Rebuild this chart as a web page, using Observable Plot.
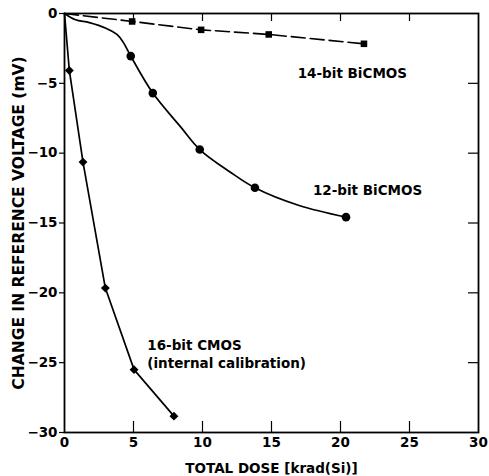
<!DOCTYPE html>
<html>
<head>
<meta charset="utf-8">
<script src="https://cdn.jsdelivr.net/npm/d3@7"></script>
<script src="https://cdn.jsdelivr.net/npm/@observablehq/plot@0.6"></script>
<style>
  html, body { margin: 0; padding: 0; background: #fff; }
</style>
</head>
<body>
<div id="chart"></div>
<script>
// 14-bit BiCMOS (dashed, squares)
const dose14 = [0, 4.9, 9.9, 14.8, 21.7];
const volt14 = [0, -0.57, -1.17, -1.5, -2.17];
// 12-bit BiCMOS (smooth curve, circles)
const dose12Curve = [0, 0.8, 1.8, 3.0, 3.8, 4.25, 4.8, 6.4, 8.4, 9.8, 12, 13.8, 17, 20.4];
const volt12Curve = [0, -0.45, -0.65, -1.05, -1.5, -2.05, -3.05, -5.7, -8.1, -9.74, -11.35, -12.48, -13.75, -14.58];
const dose12 = [4.8, 6.4, 9.8, 13.8, 20.4];
const volt12 = [-3.05, -5.7, -9.74, -12.48, -14.58];
// 16-bit CMOS (straight segments, diamonds)
const dose16 = [0, 0.35, 1.34, 2.96, 5.04, 7.93];
const volt16 = [0, -4.08, -10.64, -19.66, -25.5, -28.83];

const xTicks = [0, 5, 10, 15, 20, 25, 30];
const yTicks = [0, -5, -10, -15, -20, -25, -30];
const innerX = [5, 10, 15, 20, 25];
const innerY = [-5, -10, -15, -20, -25];

const seriesLabels = [
  {x: 16.9, y: -4.2, text: "14-bit BiCMOS"},
  {x: 18.0, y: -12.6, text: "12-bit BiCMOS"},
  {x: 6.0, y: -24.3, text: "16-bit CMOS\n(internal calibration)"}
];

const zip = (xs, ys) => xs.map((x, i) => ({x, y: ys[i]}));
const s14 = zip(dose14, volt14);
const s12c = zip(dose12Curve, volt12Curve);
const s12 = zip(dose12, volt12);
const s16 = zip(dose16, volt16);

const W = 489, H = 476, ML = 64, MR = 11, MT = 13, MB = 44;
const innerW = W - ML - MR, innerH = H - MT - MB;
const font = "DejaVu Sans";

const chart = Plot.plot({
  width: W,
  height: H,
  marginLeft: ML,
  marginRight: MR,
  marginTop: MT,
  marginBottom: MB,
  style: {fontFamily: font, fontWeight: "bold", fontSize: "13.5px", color: "#000", background: "#fff", overflow: "visible"},
  x: {domain: [0, 30]},
  y: {domain: [-30, 0]},
  marks: [
    Plot.axisX({anchor: "bottom", ticks: xTicks, tickSize: 0, tickPadding: 5, fontSize: 13.5,
      label: "TOTAL DOSE [krad(Si)]", labelAnchor: "center", labelArrow: "none", labelOffset: 40}),
    Plot.axisY({anchor: "left", ticks: yTicks, tickSize: 5, tickPadding: 2, strokeWidth: 1.2, fontSize: 13.5, label: null}),
    Plot.axisY({anchor: "left", ticks: [], tickSize: 0, fontSize: 15.5,
      label: "CHANGE IN REFERENCE VOLTAGE (mV)", labelAnchor: "center", labelArrow: "none", labelOffset: 52}),
    // inward ticks
    Plot.tickX(innerX, {x: d => d, insetTop: innerH - 11, stroke: "#000", strokeWidth: 1.2}),
    Plot.tickX(innerX, {x: d => d, insetBottom: innerH - 8, stroke: "#000", strokeWidth: 1.2}),
    Plot.tickY(innerY, {y: d => d, insetLeft: innerW - 10, stroke: "#000", strokeWidth: 1.2}),
    Plot.frame({stroke: "#000", strokeWidth: 1.8}),
    Plot.line(s14, {x: "x", y: "y", stroke: "#000", strokeWidth: 1.6, strokeDasharray: "14,5"}),
    Plot.dot(s14.slice(1), {x: "x", y: "y", symbol: "square", r: 3.7, fill: "#000"}),
    Plot.line(s12c, {x: "x", y: "y", curve: "catmull-rom", stroke: "#000", strokeWidth: 1.7}),
    Plot.dot(s12, {x: "x", y: "y", symbol: "circle", r: 4.3, fill: "#000"}),
    Plot.line(s16, {x: "x", y: "y", stroke: "#000", strokeWidth: 1.7}),
    Plot.dot(s16.slice(1), {x: "x", y: "y", symbol: "diamond2", r: 4, fill: "#000"}),
    Plot.text(seriesLabels, {x: "x", y: "y", text: "text", textAnchor: "start", lineAnchor: "middle",
      lineHeight: 1.38, fontSize: 13.5, fontWeight: "bold", fill: "#000"})
  ]
});
document.getElementById("chart").appendChild(chart);
</script>
</body>
</html>
